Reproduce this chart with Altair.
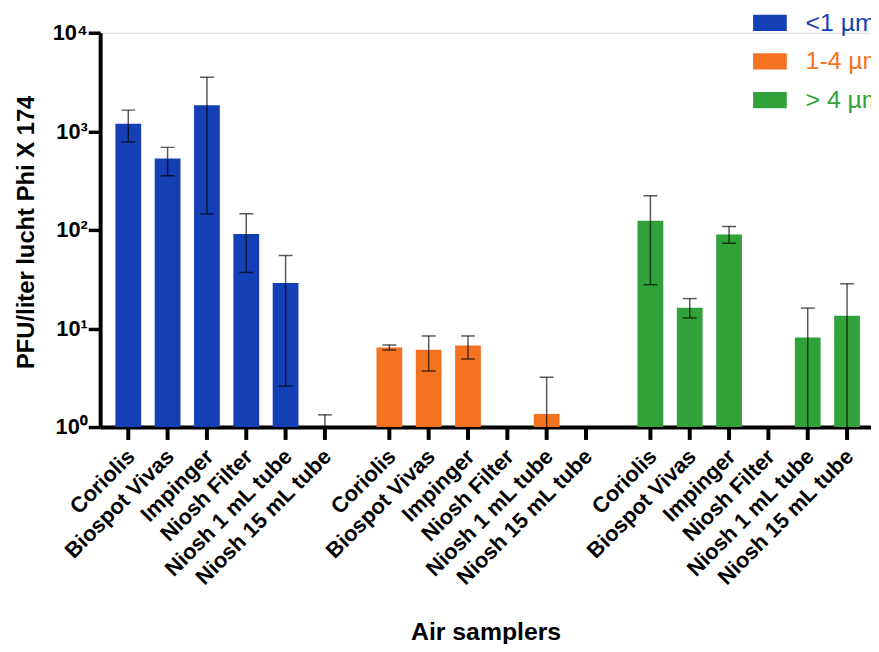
import altair as alt
import pandas as pd

# ---- data ----
size_classes = ["<1 µm", "1-4 µm", "> 4 µm"]
samplers = ["Coriolis", "Biospot Vivas", "Impinger", "Niosh Filter",
            "Niosh 1 mL tube", "Niosh 15 mL tube"]

mean_lt1 = [1190, 530, 1840, 91, 29, 0.67]
hi_lt1 = [1640, 687, 3540, 146, 55, 1.33]
lo_lt1 = [777, 354, 145, 37, 2.6, 0.1]

mean_1_4 = [6.4, 6.1, 6.7, None, 1.36, None]
hi_1_4 = [6.8, 8.4, 8.4, None, 3.2, None]
lo_1_4 = [6.05, 3.7, 4.9, None, 0.1, None]

mean_gt4 = [124, 16.2, 90, None, 8.1, 13.5]
hi_gt4 = [222, 20.1, 108, None, 16.1, 28.4]
lo_gt4 = [27.8, 12.8, 73, None, 0.1, 0.1]

colors = ["#143FB5", "#F47320", "#31A23A"]
y_ticks = [1, 10, 100, 1000, 10000]

rows = []
for cls, means, his, los in zip(size_classes,
                                [mean_lt1, mean_1_4, mean_gt4],
                                [hi_lt1, hi_1_4, hi_gt4],
                                [lo_lt1, lo_1_4, lo_gt4]):
    for s, m, h, l in zip(samplers, means, his, los):
        rows.append({"size": cls, "sampler": s, "mean": m, "hi": h, "lo": l})
df = pd.DataFrame(rows)

W, H = 778, 398
FONT = "Liberation Sans"

x_scale = alt.Scale(domain=size_classes, paddingInner=0.0961,
                    paddingOuter=0.0244, align=0.664)
xo_scale = alt.Scale(domain=samplers, paddingInner=0.345, paddingOuter=0.1725)
y_scale = alt.Scale(type="log", domain=[1, 10000], nice=False)

x_axis = alt.Axis(labels=False, ticks=False, grid=False, domain=True,
                  domainColor="black", domainWidth=4,
                  title="Air samplers", titleFont=FONT, titleFontSize=25,
                  titleFontWeight="bold", titleColor="black",
                  titleY=214, titleBaseline="alphabetic")
y_axis = alt.Axis(values=y_ticks, grid=False,
                  labelExpr="'10' + ['⁰','¹','²','³','⁴'][round(log(datum.value)/LN10)]",
                  labelFont=FONT, labelFontSize=22, labelFontWeight="bold",
                  labelColor="black", labelPadding=1,
                  tickSize=12, tickWidth=3.5, tickColor="black",
                  domainColor="black", domainWidth=4,
                  title="PFU/liter lucht Phi X 174", titleFont=FONT,
                  titleFontSize=24, titleFontWeight="bold", titleColor="black",
                  titleX=-67, titleY=201, titleBaseline="alphabetic",
                  titleAlign="center", titleAngle=270)

X = alt.X("size:N", scale=x_scale, axis=x_axis)
XO = alt.XOffset("sampler:N", scale=xo_scale)

base = alt.Chart(df)

legend = alt.Legend(title=None, orient="none", legendX=659, legendY=-27,
                    symbolType="M-1,-0.48L1,-0.48L1,0.48L-1,0.48Z",
                    symbolSize=1156, symbolStrokeWidth=0, symbolOpacity=1,
                    labelFont=FONT, labelFontSize=25, labelOffset=19,
                    labelLimit=0, rowPadding=9, padding=0,
                    labelColor={"expr": "scale('color', datum.value)"})

bars = base.mark_bar(clip=True).encode(
    x=X, xOffset=XO,
    y=alt.Y("mean:Q", scale=y_scale, axis=y_axis, stack=None),
    y2=alt.value(H),
    color=alt.Color("size:N", scale=alt.Scale(domain=size_classes, range=colors),
                    legend=legend),
)

err = base.mark_rule(clip=True, color="black", opacity=0.65, strokeWidth=1.5).encode(
    x=X, xOffset=XO,
    y=alt.Y("lo:Q", scale=y_scale, axis=y_axis),
    y2="hi:Q",
)

cap_hi = base.mark_tick(clip=True, color="black", opacity=0.65, thickness=1.5,
                        size=14).encode(
    x=X, xOffset=XO,
    y=alt.Y("hi:Q", scale=y_scale, axis=y_axis),
)
cap_lo = base.mark_tick(clip=True, color="black", opacity=0.65, thickness=1.5,
                        size=14).encode(
    x=X, xOffset=XO,
    y=alt.Y("lo:Q", scale=y_scale, axis=y_axis),
)

ticks = base.mark_rule(color="black", strokeWidth=4).encode(
    x=X, xOffset=XO,
    y=alt.value(H), y2=alt.value(H + 13),
)

labels = base.mark_text(angle=315, align="right", baseline="middle",
                        font=FONT, fontSize=22, fontWeight="bold",
                        color="black", dx=4).encode(
    x=X, xOffset=XO,
    y=alt.value(H + 29),
    text="sampler:N",
)

chart = alt.layer(bars, err, cap_hi, cap_lo, ticks, labels).properties(
    width=W, height=H,
    autosize=alt.AutoSizeParams(type="none"),
    padding={"left": 93, "top": 22, "right": 0, "bottom": 216},
).configure_view(stroke=None).configure(background="white")

chart.save("out.html", embed_options={"renderer": "svg", "actions": False})
